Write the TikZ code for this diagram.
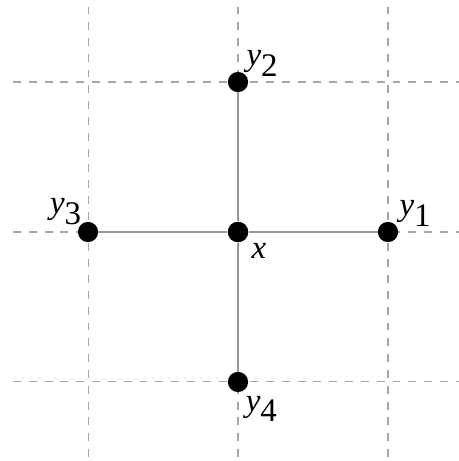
\documentclass[tikz,border=0pt]{standalone}
\usepackage{fontspec}
\setmainfont{Liberation Serif}
\usepackage{tikz}
\usetikzlibrary{calc,positioning}

\begin{document}
\begin{tikzpicture}[
  x=2cm, y=2cm,
  every node/.style={font=\fontsize{12.5}{15}\selectfont},
  grid/.style={gray!70,thin,dashed},
  edge/.style={gray!80,thin},
  dot/.style={circle,fill=black,inner sep=0pt,minimum size=0.27cm}]

% --- Fixed frame (keeps the margins) ---
\useasboundingbox (-1.587,-1.527) rectangle (1.467,1.547);

% --- Dashed lattice ---
\foreach \k in {-1,0,1} {
  \draw[grid] (\k,-1.5) -- (\k,1.5);
  \draw[grid] (-1.5,\k) -- (1.5,\k);
}

% --- Centre and its four neighbours ---
\node[dot] (x)  at (0,0)  {};
\node[dot] (y1) at (1,0)  {};
\node[dot] (y2) at (0,1)  {};
\node[dot] (y3) at (-1,0) {};
\node[dot] (y4) at (0,-1) {};

% --- Edges of the cross ---
\begin{scope}[on background layer/.try]
\draw[edge] (y3) -- (x) -- (y1);
\draw[edge] (y2) -- (x) -- (y4);
\end{scope}
\node[dot] at (x) {};

% --- Labels ---
\node (lx)  at ($(x)+(0.28cm,-0.25cm)$)   {$\textit{x}$};
\node (ly1) at ($(y1)+(0.37cm,0.25cm)$)   {$\textit{y}_{\textrm{1}}$};
\node (ly2) at ($(y2)+(0.33cm,0.25cm)$)   {$\textit{y}_{\textrm{2}}$};
\node (ly3) at ($(y3)+(-0.29cm,0.27cm)$)  {$\textit{y}_{\textrm{3}}$};
\node (ly4) at ($(y4)+(0.32cm,-0.36cm)$)  {$\textit{y}_{\textrm{4}}$};

\end{tikzpicture}
\end{document}
